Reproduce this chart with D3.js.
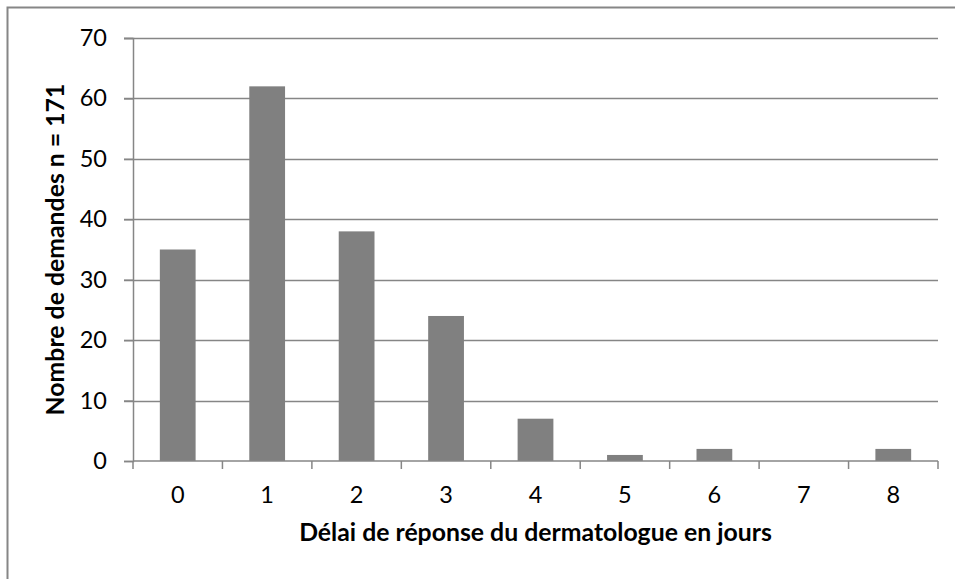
<!DOCTYPE html>
<html>
<head>
<meta charset="utf-8">
<script src="https://cdn.jsdelivr.net/npm/d3@7"></script>
<style>
  body { margin: 0; background: #fff; }
  text { font-family: Lato, "Open Sans", sans-serif; fill: #000; }
</style>
</head>
<body>
<div class="canvas"></div>
<script>
// data
const days = ['0', '1', '2', '3', '4', '5', '6', '7', '8']
const requests = [35, 62, 38, 24, 7, 1, 2, 0, 2]
const yTicks = [0, 10, 20, 30, 40, 50, 60, 70]

const width = 955
const height = 579

const svg = d3.select('.canvas')
    .append('svg')
    .attr('width', width)
    .attr('height', height)

// chart area border (runs off the right/bottom of the picture)
svg.append('rect')
    .attr('x', 7.5)
    .attr('y', 7.5)
    .attr('width', 1000)
    .attr('height', 1000)
    .attr('fill', 'none')
    .attr('stroke', '#868686')
    .attr('stroke-width', 2)

const margin = {top: 38, right: 17, bottom: 118, left: 133}
const graphWidth = width - margin.left - margin.right
const graphHeight = height - margin.top - margin.bottom

const graph = svg.append('g')
    .attr('transform', `translate(${margin.left}, ${margin.top})`)

const data = days.map((d, i) => ({day: d, value: requests[i]}))

const y = d3.scaleLinear()
    .domain([0, 70])
    .range([graphHeight, 0])

// category bands (for ticks) and the narrower bar bands (gap width 150%)
const x = d3.scaleBand()
    .domain(days)
    .range([0, graphWidth])
    .padding(0)
const xBar = d3.scaleBand()
    .domain(days)
    .range([0, graphWidth])
    .paddingInner(0.6)
    .paddingOuter(0.3)

// gridlines
graph.append('g')
    .selectAll('line')
    .data(yTicks.filter(t => t > 0))
    .enter()
    .append('line')
    .attr('x1', -9)
    .attr('x2', graphWidth)
    .attr('y1', d => Math.round(y(d)) + 0.5)
    .attr('y2', d => Math.round(y(d)) + 0.5)
    .attr('stroke', '#868686')
    .attr('stroke-width', 1.5)

// bars
graph.selectAll('rect.bar')
    .data(data)
    .enter()
    .append('rect')
    .attr('class', 'bar')
    .attr('x', d => xBar(d.day))
    .attr('width', xBar.bandwidth())
    .attr('y', d => y(d.value))
    .attr('height', d => graphHeight - y(d.value))
    .attr('fill', '#808080')

// y axis
const yAxis = d3.axisLeft(y)
    .tickValues(yTicks)
    .tickSize(9)
    .tickPadding(17)
const yAxisGroup = graph.append('g').call(yAxis)

// x axis with ticks between categories
const xAxisGroup = graph.append('g')
    .attr('transform', `translate(0, ${graphHeight})`)
xAxisGroup.append('line')
    .attr('x1', 0).attr('x2', graphWidth)
    .attr('y1', 0).attr('y2', 0)
xAxisGroup.selectAll('line.tk')
    .data(days.concat(['end']))
    .enter()
    .append('line')
    .attr('class', 'tk')
    .attr('x1', (d, i) => i * x.step())
    .attr('x2', (d, i) => i * x.step())
    .attr('y1', 0)
    .attr('y2', 8)
xAxisGroup.selectAll('line')
    .attr('stroke', '#868686')
    .attr('stroke-width', 1.5)
xAxisGroup.selectAll('text')
    .data(days)
    .enter()
    .append('text')
    .attr('x', d => x(d) + x.bandwidth() / 2)
    .attr('y', 42)
    .attr('text-anchor', 'middle')
    .attr('font-size', 23.5)
    .text(d => d)

yAxisGroup.select('.domain').attr('stroke', '#868686').attr('stroke-width', 1.5)
yAxisGroup.selectAll('.tick line').attr('stroke', '#868686').attr('stroke-width', 1.5)
yAxisGroup.selectAll('.tick text')
    .attr('font-size', 23.5)
    .attr('font-family', 'Lato, sans-serif')
    .attr('fill', '#000')

// axis titles
svg.append('text')
    .attr('x', margin.left + graphWidth / 2)
    .attr('y', 541)
    .attr('text-anchor', 'middle')
    .attr('font-size', 24.8)
    .attr('font-weight', 'bold')
    .text('Délai de réponse du dermatologue en jours')

svg.append('text')
    .attr('transform', `translate(64, ${margin.top + graphHeight / 2}) rotate(-90)`)
    .attr('text-anchor', 'middle')
    .attr('font-size', 24.8)
    .attr('font-weight', 'bold')
    .text('Nombre de demandes n = 171')
</script>
</body>
</html>
